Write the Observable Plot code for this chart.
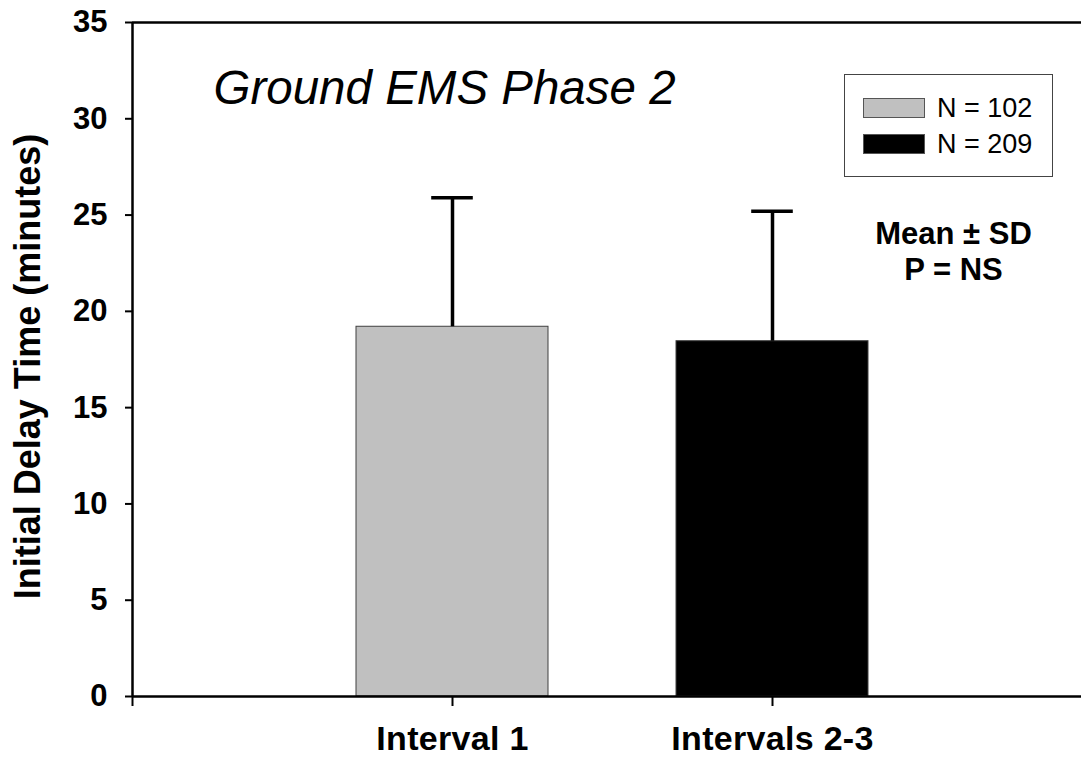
<!DOCTYPE html>
<html>
<head>
<meta charset="utf-8">
<script src="https://cdn.jsdelivr.net/npm/d3@7"></script>
<script src="https://cdn.jsdelivr.net/npm/@observablehq/plot@0.6"></script>
<style>
  html, body { margin: 0; padding: 0; background: #fff; overflow: hidden; }
  #wrap { position: relative; width: 1081px; height: 759px; font-family: "Liberation Sans", Arial, sans-serif; }
  #legend { position: absolute; left: 844px; top: 74px; width: 207px; height: 101px; border: 1.5px solid #444; background: #fff; }
  .item { position: absolute; left: 18px; height: 20px; display: flex; align-items: center; }
  .sw { width: 60px; height: 18px; border: 1px solid #555; box-sizing: content-box; }
  .lab { margin-left: 12px; font-size: 27px; line-height: 20px; color: #000; }
  g[aria-label="note"] text { letter-spacing: 0.5px; }
  g[aria-label="x-axis tick label"] text { letter-spacing: 0.3px; }
</style>
</head>
<body>
<div id="wrap"></div>
<script>
// ---- data ----
const categories = ["Interval 1", "Intervals 2-3"];
const means = [19.2, 18.45];
const sds = [6.7, 6.75];
const ns = [102, 209];
const colors = ["#c0c0c0", "#000000"];
const yTicks = [0, 5, 10, 15, 20, 25, 30, 35];
const xTickPositions = [0, 1, 2];
const titleText = "Ground EMS Phase 2";
const yLabel = "Initial Delay Time (minutes)";
const noteLines = ["Mean ± SD", "P = NS"];

const data = categories.map((c, i) => ({cat: c, pos: i + 1, mean: means[i], sd: sds[i], n: ns[i], color: colors[i]}));
const halfBar = 0.3, halfCap = 0.065;

const chart = Plot.plot({
  width: 1081,
  height: 759,
  marginLeft: 132,
  marginRight: 0,
  marginTop: 22,
  marginBottom: 63,
  style: {fontFamily: "Liberation Sans, Arial, sans-serif", color: "#000", background: "#fff", overflow: "visible"},
  x: {domain: [0, (1081 - 132) / 320]},
  y: {domain: [0, 35]},
  color: {type: "identity"},
  marks: [
    Plot.rect(data, {x1: d => d.pos - halfBar, x2: d => d.pos + halfBar, y1: 0, y2: "mean", fill: "color", stroke: "#404040", strokeWidth: 1}),
    Plot.ruleX(data, {x: "pos", y1: "mean", y2: d => d.mean + d.sd, stroke: "#000", strokeWidth: 3.5}),
    Plot.ruleY(data, {y: d => d.mean + d.sd, x1: d => d.pos - halfCap, x2: d => d.pos + halfCap, stroke: "#000", strokeWidth: 3.5}),
    Plot.ruleY([0], {stroke: "#000", strokeWidth: 2.5}),
    Plot.ruleY([35], {stroke: "#000", strokeWidth: 2.5}),
    Plot.ruleX([0], {stroke: "#000", strokeWidth: 2.5}),
    Plot.axisY({ticks: yTicks, tickSize: 7, tickPadding: 18, fontSize: 31, fontWeight: "bold", label: null, strokeWidth: 2, tickFormat: d => String(d)}),
    Plot.axisX({ticks: xTickPositions, tickSize: 10, tickPadding: 19, fontSize: 34, fontWeight: "bold", label: null, strokeWidth: 2,
      tickFormat: d => (d === 0 ? "" : categories[d - 1])}),
    Plot.text([yLabel], {text: d => d, frameAnchor: "left", rotate: -90, dx: -104, dy: 7, fontSize: 36, fontWeight: "bold", textAnchor: "middle", lineAnchor: "middle"}),
    Plot.text([titleText], {text: d => d, frameAnchor: "top-left", dx: 81, dy: 81, textAnchor: "start", lineAnchor: "bottom", fontSize: 47.5, fontStyle: "italic"}),
    Plot.text([noteLines[0]], {text: d => d, frameAnchor: "top-left", dx: 821, dy: 221, textAnchor: "middle", lineAnchor: "bottom", fontSize: 31, fontWeight: "bold", ariaLabel: "note"}),
    Plot.text([noteLines[1]], {text: d => d, frameAnchor: "top-left", dx: 821, dy: 257, textAnchor: "middle", lineAnchor: "bottom", fontSize: 31, fontWeight: "bold", ariaLabel: "note"})
  ]
});

const wrap = document.getElementById("wrap");
wrap.appendChild(chart);

// legend
const legend = document.createElement("div");
legend.id = "legend";
data.forEach((d, i) => {
  const item = document.createElement("div");
  item.className = "item";
  item.style.top = (i === 0 ? 23 : 59) + "px";
  const sw = document.createElement("div");
  sw.className = "sw";
  sw.style.background = d.color;
  const lab = document.createElement("span");
  lab.className = "lab";
  lab.textContent = "N = " + d.n;
  item.appendChild(sw);
  item.appendChild(lab);
  legend.appendChild(item);
});
wrap.appendChild(legend);
</script>
</body>
</html>
